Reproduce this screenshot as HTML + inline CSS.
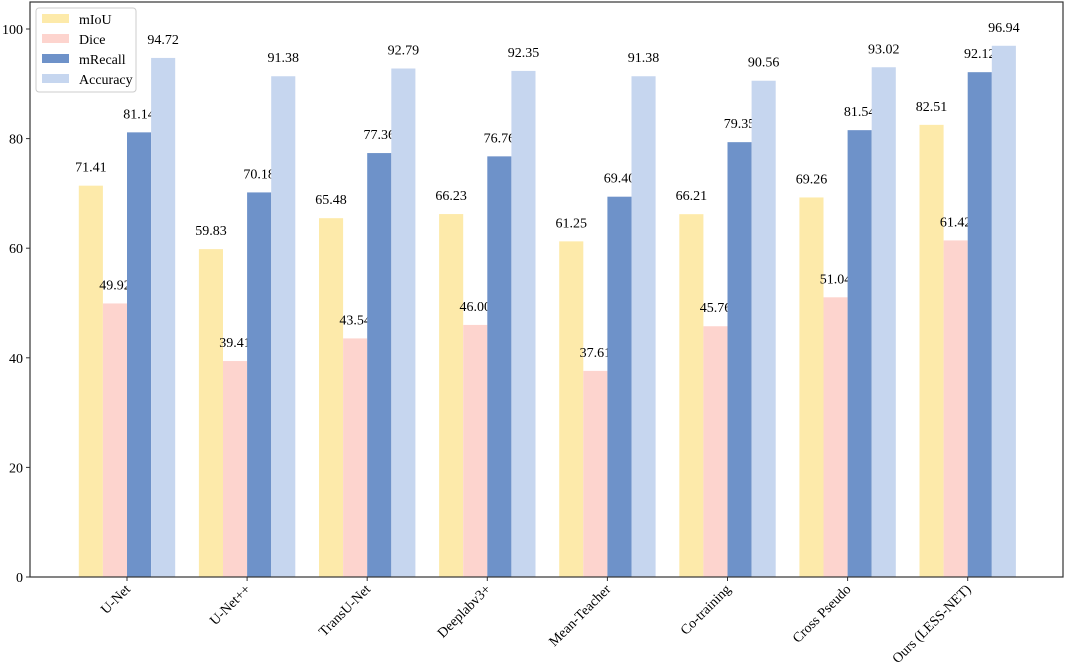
<!DOCTYPE html>
<html><head><meta charset="utf-8"><style>
html,body{margin:0;padding:0;background:#fff}
svg{display:block;font-family:"Liberation Serif",serif}
</style></head><body>
<svg id="chart" width="1065" height="665"></svg>
<script>
const categories=["U-Net","U-Net++","TransU-Net","Deeplabv3+","Mean-Teacher","Co-training","Cross Pseudo","Ours (LESS-NET)"];
const seriesNames=["mIoU","Dice","mRecall","Accuracy"];
const mIoU=[71.41,59.83,65.48,66.23,61.25,66.21,69.26,82.51];
const dice=[49.92,39.41,43.54,46.00,37.61,45.76,51.04,61.42];
const mRecall=[81.14,70.18,77.36,76.76,69.40,79.35,81.54,92.12];
const accuracy=[94.72,91.38,92.79,92.35,91.38,90.56,93.02,96.94];
const yTicks=[0,20,40,60,80,100];
const series=[mIoU,dice,mRecall,accuracy];
const colors=["#fdeaaa","#fdd4ce","#6e92c9","#c6d6ef"];
const NS="http://www.w3.org/2000/svg";
const svg=document.getElementById("chart");
const L=30,R=1063,T=2,B=577;
const y=v=>B-v*5.48;
const xc=i=>127+i*120.1;
const bw=24.1;
function mk(tag,attrs,parent){const e=document.createElementNS(NS,tag);for(const k in attrs)e.setAttribute(k,attrs[k]);(parent||svg).appendChild(e);return e;}
series.forEach((s,si)=>{s.forEach((v,i)=>{
  const x=xc(i)+(si-2)*bw;
  const r=mk("rect",{x:x,y:y(v),width:bw,height:B-y(v),fill:colors[si]});
  
  
  const t=mk("text",{x:x+bw/2,y:y(v)-14,"text-anchor":"middle","font-size":"14",fill:"#000"});
  t.textContent=v.toFixed(2);
  
  
});});
const frame=mk("rect",{x:L,y:T,width:R-L,height:B-T,fill:"none",stroke:"#333","stroke-width":"1.2"});


yTicks.forEach(v=>{
  mk("line",{x1:L-4,x2:L,y1:y(v),y2:y(v),stroke:"#333"});
  const t=mk("text",{x:L-7,y:y(v)+5,"text-anchor":"end","font-size":"14"});
  t.textContent=v;
  
  
});
categories.forEach((c,i)=>{
  mk("line",{x1:xc(i),x2:xc(i),y1:B,y2:B+4,stroke:"#333"});
  const t=mk("text",{x:xc(i)+4,y:B+13,"text-anchor":"end","font-size":"14",transform:`rotate(-45 ${xc(i)+4} ${B+13})`});
  t.textContent=c;
  
  
});
const lg=mk("g",{});


mk("rect",{x:36,y:8,width:100,height:84,rx:3,fill:"#fff",stroke:"#ccc"},lg);
seriesNames.forEach((n,i)=>{
  const e=mk("g",{},lg);
  
  
  mk("rect",{x:42,y:14+i*20,width:27,height:9,fill:colors[i]},e);
  const t=mk("text",{x:79,y:24+i*20,"font-size":"14"},e);
  t.textContent=n;
});
</script>
</body></html>
